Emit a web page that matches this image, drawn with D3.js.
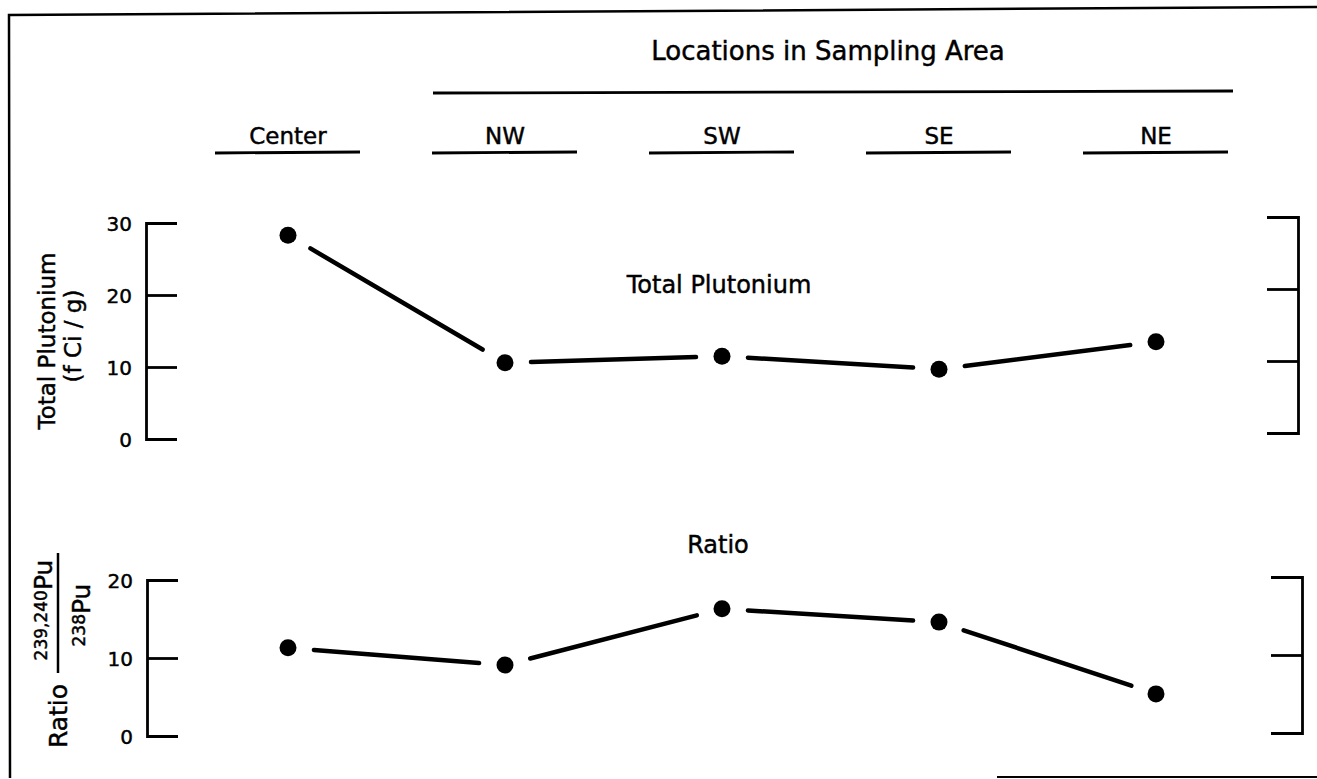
<!DOCTYPE html>
<html lang="en">
<head>
<meta charset="UTF-8">
<title>Plutonium in Sampling Area</title>
<script src="https://d3js.org/d3.v7.min.js"></script>
<style>
    body { margin: 0; background: #fff; }
    text { font-family: "DejaVu Sans", "Liberation Sans", sans-serif; fill: #000; stroke: #000; stroke-width: 0.45px; }
    .axis path, .axis line { stroke: #000; stroke-width: 2.8; }
    .axis text { font-size: 20px; font-family: "DejaVu Sans", sans-serif; stroke: #000; stroke-width: 0.45px; }
</style>
</head>
<body>
<svg width="1317" height="779"></svg>
<script>
    // data
    const locations = ["Center", "NW", "SW", "SE", "NE"];
    const plutonium = [28.3, 10.6, 11.5, 9.7, 13.5];
    const ratio = [11.3, 9.1, 16.3, 14.6, 5.4];
    const plutoniumTicks = [0, 10, 20, 30];
    const ratioTicks = [0, 10, 20];

    const svg = d3.select("svg");

    // frame (scan is slightly skewed)
    svg.append("path")
        .attr("d", "M10,778 L9,15 L1317,7")
        .attr("fill", "none").attr("stroke", "#000").attr("stroke-width", 2.5);
    svg.append("line")
        .attr("x1", 997).attr("x2", 1317).attr("y1", 777).attr("y2", 777)
        .attr("stroke", "#000").attr("stroke-width", 2);

    const x = d3.scalePoint().domain(locations).range([288, 1156]);

    // header
    svg.append("text")
        .attr("x", 828).attr("y", 60)
        .attr("text-anchor", "middle")
        .style("font-size", "26px")
        .text("Locations in Sampling Area");
    svg.append("line")
        .attr("x1", x("NW") - 72).attr("x2", x("NE") + 77)
        .attr("y1", 93).attr("y2", 91)
        .attr("stroke", "#000").attr("stroke-width", 2.8);

    const cat = svg.append("g").selectAll("g")
        .data(locations).enter().append("g");
    cat.append("text")
        .attr("x", d => x(d)).attr("y", 144)
        .attr("text-anchor", "middle")
        .style("font-size", "23px")
        .text(d => d);
    cat.append("line")
        .attr("x1", d => x(d) - 73).attr("x2", d => x(d) + 72)
        .attr("y1", 153).attr("y2", 152)
        .attr("stroke", "#000").attr("stroke-width", 2.8);

    function panel(values, ticks, y, leftX, rightX, rightShift) {
        svg.append("g")
            .attr("class", "axis")
            .attr("transform", `translate(${leftX},0)`)
            .call(d3.axisLeft(y).tickValues(ticks).tickSize(-31).tickPadding(14))
            .call(g => g.selectAll("text").attr("dy", "0.35em"));

        svg.append("g")
            .attr("class", "axis")
            .attr("transform", `translate(${rightX},${rightShift})`)
            .call(d3.axisRight(y).tickValues(ticks).tickSize(-31).tickFormat(""));

        // connecting segments stop short of the dots
        const pts = locations.map((d, i) => [x(d), y(values[i])]);
        const gap = 26;
        const segs = d3.pairs(pts).map(([a, b]) => {
            const dx = b[0] - a[0], dy = b[1] - a[1];
            const len = Math.sqrt(dx * dx + dy * dy);
            const ux = dx / len, uy = dy / len;
            return [a[0] + ux * gap, a[1] + uy * gap, b[0] - ux * gap, b[1] - uy * gap];
        });
        svg.append("g").selectAll("line")
            .data(segs).enter().append("line")
            .attr("x1", d => d[0]).attr("y1", d => d[1])
            .attr("x2", d => d[2]).attr("y2", d => d[3])
            .attr("stroke", "#000").attr("stroke-width", 4.5)
            .attr("stroke-linecap", "round");

        svg.append("g").selectAll("circle")
            .data(values).enter().append("circle")
            .attr("cx", (d, i) => x(locations[i]))
            .attr("cy", d => y(d))
            .attr("r", 8.5)
            .attr("fill", "#000");
    }

    const yTop = d3.scaleLinear().domain([0, 30]).range([439, 223]);
    const yBot = d3.scaleLinear().domain([0, 20]).range([736, 580]);

    panel(plutonium, plutoniumTicks, yTop, 146, 1298, -6);
    panel(ratio, ratioTicks, yBot, 147, 1302, -3);

    // panel labels
    svg.append("text")
        .attr("x", 719).attr("y", 293)
        .attr("text-anchor", "middle")
        .style("font-size", "24px")
        .text("Total Plutonium");
    svg.append("text")
        .attr("x", 718).attr("y", 553)
        .attr("text-anchor", "middle")
        .style("font-size", "24px")
        .text("Ratio");

    // y titles
    const t1 = svg.append("g").attr("transform", "translate(0,341) rotate(-90)");
    t1.append("text").attr("x", 0).attr("y", 55)
        .attr("text-anchor", "middle").style("font-size", "23px")
        .text("Total Plutonium");
    t1.append("text").attr("x", 5).attr("y", 81)
        .attr("text-anchor", "middle").style("font-size", "23px")
        .text("(f Ci / g)");

    const t2 = svg.append("g").attr("transform", "translate(0,716) rotate(-90)");
    t2.append("text").attr("x", 0).attr("y", 67)
        .attr("text-anchor", "middle").style("font-size", "25px")
        .text("Ratio");

    const frac = svg.append("g").attr("transform", "translate(58,613) rotate(-90)");
    frac.append("line")
        .attr("x1", -60).attr("x2", 60).attr("y1", 0).attr("y2", 0)
        .attr("stroke", "#000").attr("stroke-width", 2.5);
    const num = frac.append("text").attr("x", 3).attr("y", -6).attr("text-anchor", "middle");
    num.append("tspan").style("font-size", "17px").attr("dy", -5).text("239,240");
    num.append("tspan").style("font-size", "25px").attr("dy", 5).text("Pu");
    const den = frac.append("text").attr("x", -2).attr("y", 32).attr("text-anchor", "middle");
    den.append("tspan").style("font-size", "17px").attr("dy", -5).text("238");
    den.append("tspan").style("font-size", "25px").attr("dy", 5).text("Pu");
</script>
</body>
</html>
